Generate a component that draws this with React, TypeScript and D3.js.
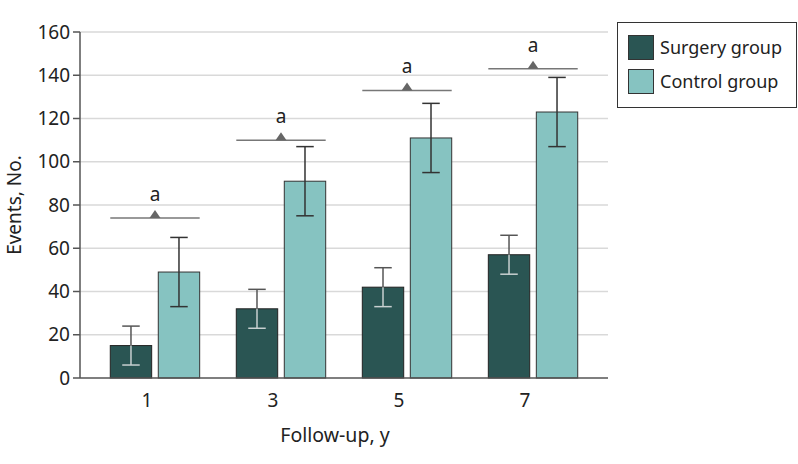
import React from "react";
import * as d3 from "d3";

const categories = ["1", "3", "5", "7"];
const surgeryValues = [15, 32, 42, 57];
const surgeryLow = [6, 23, 33, 48];
const surgeryHigh = [24, 41, 51, 66];
const controlValues = [49, 91, 111, 123];
const controlLow = [33, 75, 95, 107];
const controlHigh = [65, 107, 127, 139];
const sigLevels = [74, 110, 133, 143];
const sigLabels = ["a", "a", "a", "a"];
const yTicks = [0, 20, 40, 60, 80, 100, 120, 140, 160];
const seriesNames = ["Surgery group", "Control group"];

const W = 798;
const H = 464;
const left = 80;
const right = 608;
const top = 32;
const bottom = 378;

const darkColor = "#2a5553";
const lightColor = "#86c3c1";
const font = "'Noto Sans', sans-serif";

export default function App() {
  const x = d3.scalePoint<string>().domain(categories).range([left, right]).padding(0.595);
  const y = d3.scaleLinear().domain([0, 160]).range([bottom, top]);
  const barW = 41.4;
  const gap = 3.3;
  const capW = 17.5;

  return (
    <svg width={W} height={H} style={{ position: "absolute", left: 0, top: 0, background: "#fff" }}>
      {yTicks.filter((t) => t > 0).map((t) => (
        <line key={"g" + t} x1={left} x2={right} y1={y(t)} y2={y(t)} stroke="#d9d9d9" strokeWidth={1.5} />
      ))}
      {categories.map((c, i) => {
        const cx = x(c)!;
        const sx = cx - gap - barW;
        const kx = cx + gap;
        const sMid = sx + barW / 2;
        const kMid = kx + barW / 2;
        const gx1 = sx;
        const gx2 = kx + barW;
        return (
          <g key={c}>
            <rect x={sx} y={y(surgeryValues[i])} width={barW} height={y(0) - y(surgeryValues[i])} fill={darkColor} stroke="#222" strokeWidth={1} />
            <rect x={kx} y={y(controlValues[i])} width={barW} height={y(0) - y(controlValues[i])} fill={lightColor} stroke="#333" strokeWidth={1} />
            <line x1={sMid} x2={sMid} y1={y(surgeryHigh[i])} y2={y(surgeryValues[i])} stroke="#555" strokeWidth={1.5} />
            <line x1={sMid - capW / 2} x2={sMid + capW / 2} y1={y(surgeryHigh[i])} y2={y(surgeryHigh[i])} stroke="#555" strokeWidth={1.5} />
            <line x1={sMid} x2={sMid} y1={y(surgeryValues[i])} y2={y(surgeryLow[i])} stroke="#c8d0d0" strokeWidth={1.5} />
            <line x1={sMid - capW / 2} x2={sMid + capW / 2} y1={y(surgeryLow[i])} y2={y(surgeryLow[i])} stroke="#c8d0d0" strokeWidth={1.5} />
            <line x1={kMid} x2={kMid} y1={y(controlHigh[i])} y2={y(controlLow[i])} stroke="#333" strokeWidth={1.5} />
            <line x1={kMid - capW / 2} x2={kMid + capW / 2} y1={y(controlHigh[i])} y2={y(controlHigh[i])} stroke="#333" strokeWidth={1.5} />
            <line x1={kMid - capW / 2} x2={kMid + capW / 2} y1={y(controlLow[i])} y2={y(controlLow[i])} stroke="#333" strokeWidth={1.5} />
            <line x1={gx1} x2={gx2} y1={y(sigLevels[i])} y2={y(sigLevels[i])} stroke="#777" strokeWidth={1.5} />
            <path d={`M${cx - 5.5},${y(sigLevels[i])} L${cx + 5.5},${y(sigLevels[i])} L${cx},${y(sigLevels[i]) - 8} Z`} fill="#666" />
            <text x={cx} y={y(sigLevels[i]) - 17} textAnchor="middle" fontFamily={font} fontSize={19} fill="#222">{sigLabels[i]}</text>
            <text x={cx - 8} y={bottom + 29} textAnchor="middle" fontFamily={font} fontSize={19} fill="#222">{c}</text>
          </g>
        );
      })}
      <line x1={left} x2={right} y1={bottom} y2={bottom} stroke="#555" strokeWidth={1.5} />
      <line x1={left} x2={left} y1={top} y2={bottom} stroke="#555" strokeWidth={1.5} />
      {yTicks.map((t) => (
        <g key={"t" + t}>
          <line x1={left - 7} x2={left} y1={y(t)} y2={y(t)} stroke="#555" strokeWidth={1.5} />
          <text x={left - 10} y={y(t)} dy="0.35em" textAnchor="end" fontFamily={font} fontSize={19} fill="#222">{t}</text>
        </g>
      ))}
      <text transform={`translate(21,${(top + bottom) / 2}) rotate(-90)`} textAnchor="middle" fontFamily={font} fontSize={19} fill="#222">Events, No.</text>
      <text x={335} y={442} textAnchor="middle" fontFamily={font} fontSize={19.5} fill="#222">Follow-up, y</text>
      <rect x={617.5} y={22.5} width={179} height={85} fill="#fff" stroke="#333" strokeWidth={1} />
      {seriesNames.map((n, i) => (
        <g key={n}>
          <rect x={628.5} y={35.5 + i * 34} width={25} height={24} fill={i === 0 ? darkColor : lightColor} stroke="#333" strokeWidth={1} />
          <text x={660} y={47.5 + i * 34} dy="0.35em" fontFamily={font} fontSize={18} fill="#222">{n}</text>
        </g>
      ))}
    </svg>
  );
}
